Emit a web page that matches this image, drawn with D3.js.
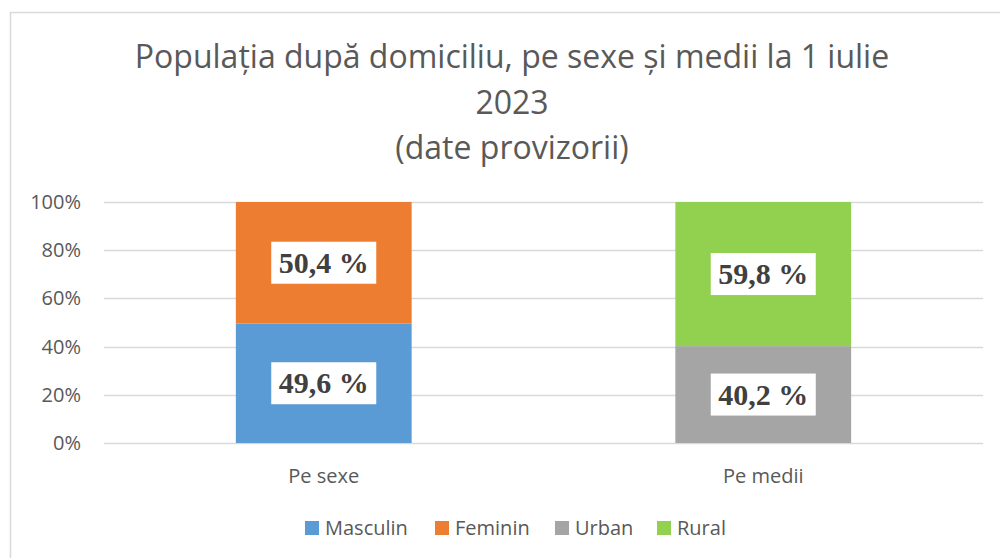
<!DOCTYPE html>
<html>
<head>
<meta charset="utf-8">
<script src="https://cdn.jsdelivr.net/npm/d3@7"></script>
<style>
  body { margin: 0; background: #fff; }
  svg { display: block; }
  text { font-family: "Open Sans", "Liberation Sans", sans-serif; fill: #595959; }
</style>
</head>
<body>
<div id="chart"></div>
<script>
const WIDTH = 1000;
const HEIGHT = 558;

// --------------- data ---------------
const categories = ["Pe sexe", "Pe medii"];
const seriesNames = ["Masculin", "Feminin", "Urban", "Rural"];
const seriesColors = ["#5B9BD5", "#ED7D31", "#A5A5A5", "#92D050"];
// share of each series per category (percent)
const masculin = [49.6, 0];
const feminin = [50.4, 0];
const urban = [0, 40.2];
const rural = [0, 59.8];
const labels = ["49,6 %", "50,4 %", "40,2 %", "59,8 %"];
const yTicks = [0, 20, 40, 60, 80, 100];
const titleLines = ["Populația după domiciliu, pe sexe și medii la 1 iulie", "2023", "(date provizorii)"];

const margin = { top: 202, right: 17, bottom: 115, left: 104 };

const svg = d3.select("#chart")
  .append("svg")
  .attr("width", WIDTH)
  .attr("height", HEIGHT);

// chart area border
svg.append("rect")
  .attr("x", 10.5).attr("y", 12.5)
  .attr("width", WIDTH).attr("height", HEIGHT)
  .attr("fill", "none")
  .attr("stroke", "#D9D9D9")
  .attr("stroke-width", 1.5);

// title
svg.append("g")
  .selectAll("text")
  .data(titleLines)
  .enter()
  .append("text")
  .attr("x", 512)
  .attr("y", (d, i) => 68 + i * 45.5)
  .attr("text-anchor", "middle")
  .style("font-size", "32px")
  .text(d => d);

const x = d3.scaleBand()
  .domain(categories)
  .range([margin.left, WIDTH - margin.right])
  .paddingInner(0.6)
  .paddingOuter(0.3);

const y = d3.scaleLinear()
  .domain([0, 100])
  .range([HEIGHT - margin.bottom, margin.top]);

// gridlines
svg.append("g")
  .selectAll("line")
  .data(yTicks)
  .enter()
  .append("line")
  .attr("x1", margin.left)
  .attr("x2", WIDTH - margin.right)
  .attr("y1", d => Math.round(y(d)) + 0.5)
  .attr("y2", d => Math.round(y(d)) + 0.5)
  .attr("stroke", "#D9D9D9")
  .attr("stroke-width", 1.5);

// y axis labels
svg.append("g")
  .selectAll("text")
  .data(yTicks)
  .enter()
  .append("text")
  .attr("x", 81)
  .attr("y", d => y(d) + 7)
  .attr("text-anchor", "end")
  .style("font-size", "20px")
  .text(d => d + "%");

// category labels
svg.append("g")
  .selectAll("text")
  .data(categories)
  .enter()
  .append("text")
  .attr("x", d => x(d) + x.bandwidth() / 2)
  .attr("y", 483)
  .attr("text-anchor", "middle")
  .style("font-size", "20px")
  .text(d => d);

// stacked bars
const rows = categories.map((c, i) => ({
  cat: c,
  Masculin: masculin[i],
  Feminin: feminin[i],
  Urban: urban[i],
  Rural: rural[i]
}));
const stack = d3.stack().keys(seriesNames)(rows);
const color = d3.scaleOrdinal().domain(seriesNames).range(seriesColors);

const layers = svg.append("g")
  .selectAll("g")
  .data(stack)
  .enter()
  .append("g")
  .attr("fill", d => color(d.key));

layers.selectAll("rect")
  .data(d => d.filter(p => p[1] - p[0] > 0))
  .enter()
  .append("rect")
  .attr("x", d => x(d.data.cat))
  .attr("width", x.bandwidth())
  .attr("y", d => y(d[1]))
  .attr("height", d => y(d[0]) - y(d[1]));

// data labels in white boxes
const labelData = [];
stack.forEach((s, si) => {
  s.forEach(p => {
    if (p[1] - p[0] > 0) labelData.push({ p: p, text: labels[si] });
  });
});

const lbl = svg.append("g")
  .selectAll("g")
  .data(labelData)
  .enter()
  .append("g")
  .attr("transform", d => `translate(${x(d.p.data.cat) + x.bandwidth() / 2},${y((d.p[0] + d.p[1]) / 2)})`);

lbl.append("rect")
  .attr("x", -52.5)
  .attr("y", -21)
  .attr("width", 105)
  .attr("height", 42)
  .attr("fill", "#fff");

lbl.append("text")
  .attr("text-anchor", "middle")
  .attr("y", 10)
  .style("font-family", "'Liberation Serif', 'Times New Roman', serif")
  .style("font-weight", "bold")
  .style("font-size", "30px")
  .style("fill", "#404040")
  .text(d => d.text);

// legend
const legendX = [305, 435, 555, 657];
const legend = svg.append("g")
  .selectAll("g")
  .data(seriesNames)
  .enter()
  .append("g")
  .attr("transform", (d, i) => `translate(${legendX[i]},521)`);

legend.append("rect")
  .attr("width", 14)
  .attr("height", 14)
  .attr("fill", d => color(d));

legend.append("text")
  .attr("x", 20)
  .attr("y", 14)
  .style("font-size", "20px")
  .text(d => d);
</script>
</body>
</html>
